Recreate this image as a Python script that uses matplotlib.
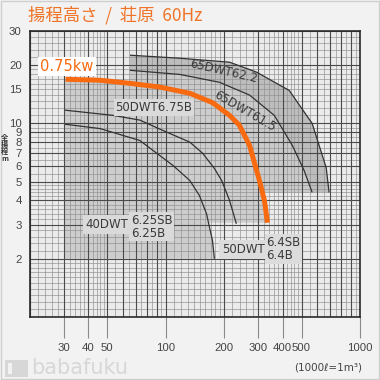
import numpy as np
import matplotlib
matplotlib.use('Agg')
import matplotlib.pyplot as plt
from matplotlib.patches import Polygon, Rectangle
from matplotlib.ticker import NullLocator

# ---------------- data ----------------
x_ticks = [30, 40, 50, 100, 200, 300, 400, 500, 1000]
x_ticklabels = ['30', '40', '50', '100', '200', '300', '400', '500', '1000']
y_ticks = [2, 3, 4, 5, 6, 7, 8, 9, 10, 15, 20, 30]
y_ticklabels = ['2', '3', '4', '5', '6', '7', '8', '9', '10', '15', '20', '30']

# 50DWT6.75B (0.75 kW, highlighted)
q_075 = [30.5, 45.9, 65.4, 93.2, 133, 174, 213, 239, 270, 303, 322, 334]
h_075 = [16.9, 16.7, 16.1, 15.4, 14.3, 12.8, 11.0, 9.8, 7.7, 5.1, 4.0, 3.07]
# 50DWT6.4SB / 6.4B
q_064 = [30.3, 53.5, 73.5, 96.5, 133, 155, 178, 194, 213, 231]
h_064 = [11.7, 11.0, 10.4, 9.2, 8.0, 7.0, 5.85, 5.07, 4.0, 3.03]
# 40DWT6.25SB / 6.25B
q_0625 = [30.3, 45.9, 73.5, 109, 133, 149, 162, 174, 178]
h_0625 = [9.9, 9.4, 8.16, 6.06, 5.07, 4.24, 3.42, 2.48, 2.0]
# 65DWT62.2
q_622 = [65.4, 118, 213, 293, 432, 567, 670, 693]
h_622 = [22.5, 21.7, 20.7, 18.4, 14.8, 10.0, 5.9, 4.4]
# 65DWT61.5
q_615 = [65.4, 118, 189, 270, 362, 448, 516, 567]
h_615 = [18.8, 17.9, 16.3, 14.0, 11.0, 7.7, 5.7, 4.4]

# range limits of the shaded selection areas
q_min_small = 30
h_min_40 = 2.0
h_min_50 = 3.07
h_min_65 = 4.4

ORANGE = '#f86a10'
TITLE_ORANGE = '#f07428'

# ---------------- figure ----------------
fig = plt.figure(figsize=(3.8, 3.8), dpi=100)
fig.patch.set_facecolor('#f2f2f2')
fig.add_artist(Rectangle((0.002, 0.002), 0.996, 0.996, transform=fig.transFigure,
                         fill=False, ec='#cfcfcf', lw=1.0))

ax = fig.add_axes([30 / 380, 1 - 317 / 380, 330 / 380, 286 / 380])
ax.set_xscale('log')
ax.set_yscale('log')
ax.set_xlim(20, 1000)
ax.set_ylim(1, 30)
ax.set_facecolor('#ebebeb')

# ----- shaded areas -----
poly65 = [(q_622[0], h_min_65)] + list(zip(q_622, h_622)) + [(q_622[-1], h_min_65)]
ax.add_patch(Polygon(poly65, closed=True, fc='#bdbdbd', ec='none', zorder=1))
poly65i = [(q_615[0], h_min_65)] + list(zip(q_615, h_615)) + [(q_615[-1], h_min_65)]
ax.add_patch(Polygon(poly65i, closed=True, fc='#cacaca', ec='none', zorder=1.1))

corner_q = float(np.exp(np.interp(np.log(h_min_50), np.log(h_0625[::-1]), np.log(q_0625[::-1]))))
tail = [(q, h) for q, h in zip(q_0625, h_0625) if h < h_min_50]
poly50 = ([(q_min_small, h_min_40), (q_min_small, h_075[0])] + list(zip(q_075, h_075)) +
          [(corner_q, h_min_50)] + tail)
ax.add_patch(Polygon(poly50, closed=True, fc='#cdcdcd', ec='none', zorder=1.2))

# ----- graph paper grid -----
def paper(lo, hi):
    major, minor = [], []
    for d in range(-1, 4):
        base = 10.0 ** d
        for k in range(1, 10):
            major.append(k * base)
            step = 0.1 if k == 1 else (0.2 if k < 5 else 0.5)
            for s in np.arange(k + step, k + 1 - 1e-9, step):
                minor.append(s * base)
    major = [v for v in major if lo <= v <= hi]
    minor = [v for v in minor if lo <= v <= hi]
    return major, minor

xmaj, xmin = paper(20, 1000)
ymaj, ymin = paper(1, 30)
ax.vlines(xmin, 1, 30, colors='#8e8e8e', lw=0.45, zorder=2)
ax.hlines(ymin, 20, 1000, colors='#8e8e8e', lw=0.45, zorder=2)
ax.vlines(xmaj, 1, 30, colors='#4a4a4a', lw=0.8, zorder=2.1)
ax.hlines(ymaj, 20, 1000, colors='#4a4a4a', lw=0.8, zorder=2.1)

# ----- curves -----
for q, h in [(q_064, h_064), (q_0625, h_0625), (q_622, h_622), (q_615, h_615)]:
    ax.plot(q, h, color='#333333', lw=0.9, zorder=3, solid_capstyle='butt')
ax.plot(q_075, h_075, color=ORANGE, lw=3.6, zorder=4, solid_capstyle='butt',
        solid_joinstyle='round')

# ----- labels -----
lab = dict(fontsize=8.5, color='#3a3a3a', family='DejaVu Sans', zorder=5)
ax.text(31.0, 19.7, '0.75kw', fontsize=10.5, color=ORANGE, ha='center', va='center',
        zorder=6, bbox=dict(boxstyle='square,pad=0.15', fc='white', ec='none'))
ax.text(86.8, 12.1, '50DWT6.75B', ha='center', va='center',
        bbox=dict(boxstyle='square,pad=0.15', fc='#dadada', ec='none'), **lab)
ax.text(198, 18.6, '65DWT62.2', ha='center', va='center', rotation=-13,
        rotation_mode='anchor', **lab)
ax.text(256, 11.6, '65DWT61.5', ha='center', va='center', rotation=-30,
        rotation_mode='anchor', **lab)
ax.text(49.8, 3.0, '40DWT', ha='center', va='center',
        bbox=dict(boxstyle='square,pad=0.25', fc='#dadada', ec='none'), **lab)
ax.text(66.2, 2.93, '6.25SB\n6.25B', ha='left', va='center', linespacing=1.0,
        bbox=dict(boxstyle='square,pad=0.15', fc='#dadada', ec='none'), **lab)
ax.text(251, 2.22, '50DWT', ha='center', va='center',
        bbox=dict(boxstyle='square,pad=0.25', fc='#dcdcdc', ec='none'), **lab)
ax.text(330, 2.25, '6.4SB\n6.4B', ha='left', va='center', linespacing=1.0,
        bbox=dict(boxstyle='square,pad=0.15', fc='#dcdcdc', ec='none'), **lab)

# ----- axes styling -----
ax.set_xticks(x_ticks, x_ticklabels)
ax.set_yticks(y_ticks, y_ticklabels)
ax.xaxis.set_minor_locator(NullLocator())
ax.yaxis.set_minor_locator(NullLocator())
ax.tick_params(axis='x', length=15, width=0.8, color='#8a8a8a', pad=4,
               labelsize=8.2, labelcolor='#444444')
ax.tick_params(axis='y', length=0, pad=6, labelsize=8.2, labelcolor='#444444')
for t in ax.get_xticklabels() + ax.get_yticklabels():
    t.set_family('Liberation Sans')
for sp in ax.spines.values():
    sp.set_color('#2a2a2a')
    sp.set_linewidth(1.2)
    sp.set_zorder(7)

# ----- figure texts -----
fig.text(28 / 380, 1 - 15 / 380, '揚程高さ  /  荘原  60Hz', fontsize=12.5, color=TITLE_ORANGE,
         family=['Noto Sans CJK JP', 'DejaVu Sans'], ha='left', va='center')
fig.text(4.5 / 380, 1 - 148 / 380, '全\n揚\n程\nm', fontsize=5.2, color='#333333',
         family=['Noto Sans CJK JP', 'DejaVu Sans'], fontweight='bold',
         ha='center', va='center', linespacing=0.95)
fig.text(362 / 380, 1 - 368 / 380, '(1000ℓ=1m³)', fontsize=7.5, color='#444444',
         family='DejaVu Sans', ha='right', va='center')
fig.text(31 / 380, 1 - 368 / 380, 'babafuku', fontsize=15, color='#d7d7d7',
         family='DejaVu Sans', ha='left', va='center')
fig.add_artist(Rectangle((5 / 380, 1 - 377 / 380), 23 / 380, 17 / 380,
                         transform=fig.transFigure, fc='#d7d7d7', ec='none'))
fig.add_artist(Rectangle((8 / 380, 1 - 374 / 380), 4 / 380, 11 / 380,
                         transform=fig.transFigure, fc='#f2f2f2', ec='none'))

fig.savefig('out.png', dpi=100, facecolor=fig.get_facecolor())
